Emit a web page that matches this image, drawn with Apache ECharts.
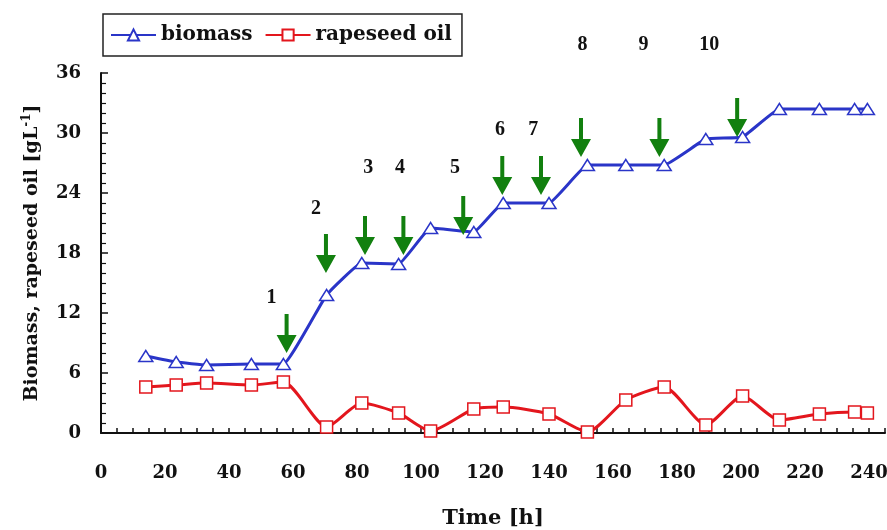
<!DOCTYPE html>
<html><head><meta charset="utf-8">
<script src="https://cdn.jsdelivr.net/npm/echarts@6/dist/echarts.min.js"></script>
<style>html,body{margin:0;padding:0;background:#fff}#c{width:887px;height:530px}</style>
</head><body><div id="c"></div>
<script>
const timeH = [14, 23.5, 33, 47, 57, 70.5, 81.5, 93, 103, 116.5, 125.7, 140, 152, 164, 176, 189, 200.5, 212, 224.5, 235.5, 239.5];
const biomass = [7.7, 7.1, 6.8, 6.9, 6.9, 13.8, 17.0, 16.9, 20.5, 20.1, 23.0, 23.0, 26.8, 26.8, 26.8, 29.4, 29.6, 32.4, 32.4, 32.4, 32.4];
const rapeseedOil = [4.6, 4.8, 5.0, 4.8, 5.1, 0.6, 3.0, 2.0, 0.2, 2.4, 2.6, 1.9, 0.1, 3.3, 4.6, 0.8, 3.7, 1.3, 1.9, 2.1, 2.0];
const feedTimes = [58, 70.3, 82.5, 94.5, 113.2, 125.4, 137.5, 150, 174.5, 198.8];
const feedArrowTip = [8.0, 16.0, 17.8, 17.8, 19.8, 23.8, 23.8, 27.6, 27.6, 29.6];
const feedLabels = ['1', '2', '3', '4', '5', '6', '7', '8', '9', '10'];
const feedLabelX = [53.3, 67.2, 83.5, 93.4, 110.6, 124.7, 135.1, 150.5, 169.5, 190.1];
const feedLabelY = [13.5, 22.4, 26.5, 26.5, 26.5, 30.3, 30.3, 38.8, 38.8, 38.8];
const xTickLabels = [0, 20, 40, 60, 80, 100, 120, 140, 160, 180, 200, 220, 240];
const yTickLabels = [0, 6, 12, 18, 24, 30, 36];

const BLUE = '#2a35c8', RED = '#e3161d', GREEN = '#12800f';
const AXF = '"DejaVu Serif", serif';

const chart = echarts.init(document.getElementById('c'), null, {renderer: 'canvas'});
chart.setOption({
  animation: false,
  backgroundColor: '#fff',
  grid: {left: 101, right: 2, top: 73, bottom: 97, containLabel: false, outerBoundsMode: 'none'},
  legend: {
    left: 103, top: 14,
    padding: [11, 10, 11, 7],
    itemGap: 12, itemWidth: 45, itemHeight: 14,
    borderColor: '#222', borderWidth: 1.5,
    textStyle: {fontFamily: AXF, fontWeight: 'bold', fontSize: 20, color: '#111'},
    data: ['biomass', 'rapeseed oil']
  },
  xAxis: {
    type: 'value', min: 0, max: 245, interval: 5,
    name: 'Time [h]', nameLocation: 'middle', nameGap: 75,
    nameTextStyle: {fontFamily: AXF, fontWeight: 'bold', fontSize: 21, color: '#111'},
    axisLine: {lineStyle: {color: '#111', width: 2}},
    axisTick: {inside: true, length: 5, lineStyle: {color: '#111', width: 1.5}},
    splitLine: {show: false},
    axisLabel: {
      margin: 31, fontFamily: AXF, fontWeight: 'bold', fontSize: 18, color: '#111',
      formatter: v => xTickLabels.indexOf(v) >= 0 ? String(v) : ''
    }
  },
  yAxis: {
    type: 'value', min: 0, max: 36, interval: 6,
    name: 'Biomass, rapeseed oil [gL{sup|-1}]', nameLocation: 'middle', nameGap: 58,
    nameTextStyle: {fontFamily: AXF, fontWeight: 'bold', fontSize: 19, color: '#111',
      rich: {sup: {fontFamily: AXF, fontWeight: 'bold', fontSize: 12, color: '#111', verticalAlign: 'top', padding: [0, 0, 10, 0]}}},
    axisLine: {show: true, lineStyle: {color: '#111', width: 2}},
    axisTick: {show: true, inside: true, length: 7, lineStyle: {color: '#111', width: 1.5}},
    minorTick: {show: true, splitNumber: 6, length: 5, lineStyle: {color: '#111', width: 1.2}},
    splitLine: {show: false},
    axisLabel: {
      margin: 20, fontFamily: AXF, fontWeight: 'bold', fontSize: 18, color: '#111',
      formatter: v => yTickLabels.indexOf(v) >= 0 ? String(v) : ''
    }
  },
  series: [
    {
      name: 'biomass', type: 'line', smooth: 0.1,
      data: timeH.map((t, i) => [t, biomass[i]]),
      symbol: 'triangle', symbolSize: [14, 11],
      lineStyle: {color: BLUE, width: 3},
      itemStyle: {color: '#fff', borderColor: BLUE, borderWidth: 1.5},
      z: 3
    },
    {
      name: 'rapeseed oil', type: 'line', smooth: 0.22,
      data: timeH.map((t, i) => [t, rapeseedOil[i]]),
      symbol: 'rect', symbolSize: 12,
      lineStyle: {color: RED, width: 3},
      itemStyle: {color: '#fff', borderColor: RED, borderWidth: 1.5},
      z: 3
    },
    {
      name: 'feeds', type: 'custom', z: 5, clip: false,
      data: feedTimes.map((t, i) => [t, feedArrowTip[i]]),
      renderItem: function (params, api) {
        const p = api.coord([api.value(0), api.value(1)]);
        const x = p[0], y = p[1];
        return {
          type: 'polygon',
          shape: {points: [[x, y], [x - 10, y - 18], [x - 2, y - 18], [x - 2, y - 39], [x + 2, y - 39], [x + 2, y - 18], [x + 10, y - 18]]},
          style: {fill: GREEN}
        };
      }
    },
    {
      name: 'feedNumbers', type: 'custom', z: 5, clip: false,
      data: feedLabelX.map((t, i) => [t, feedLabelY[i], i]),
      renderItem: function (params, api) {
        const p = api.coord([api.value(0), api.value(1)]);
        return {
          type: 'text',
          style: {
            text: feedLabels[api.value(2)], x: p[0], y: p[1],
            align: 'center', verticalAlign: 'middle',
            font: 'bold 20px "Liberation Serif", serif', fill: '#111'
          }
        };
      }
    }
  ]
});
</script></body></html>
